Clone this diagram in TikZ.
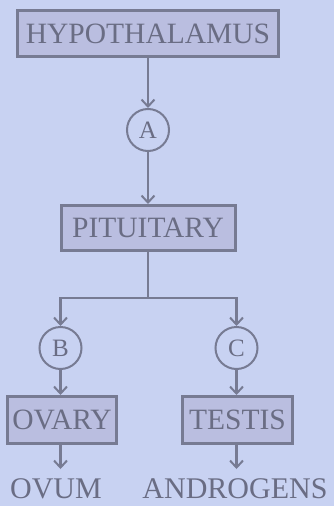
\documentclass[tikz,border=0pt]{standalone}
\usepackage{fontspec}
\setmainfont{Liberation Serif}
\usetikzlibrary{arrows.meta}
\definecolor{bg}{HTML}{C8D2F2}
\definecolor{ln}{HTML}{777B93}
\definecolor{bx}{HTML}{BABEE0}
\definecolor{tx}{HTML}{6A6D84}
\tikzset{
  organ/.style={draw=ln, line width=3pt, fill=bx, rectangle, inner sep=0pt, text=tx, font=\fontsize{29.5}{30}\selectfont},
  letter/.style={draw=ln, line width=2pt, circle, inner sep=0pt, minimum size=42pt, text=tx, font=\fontsize{25}{26}\selectfont},
  product/.style={inner sep=0pt, text=tx, font=\fontsize{30}{31}\selectfont},
  arr/.style={draw=ln, line width=2.2pt, -{Straight Barb[length=7pt,width=13pt,line width=2pt]}},
  plain/.style={draw=ln, line width=2.2pt}
}
\begin{document}
\begin{tikzpicture}[x=1pt,y=-1pt]
\useasboundingbox[fill=bg] (0,0) rectangle (334,506);
\node[organ, minimum width=261pt, minimum height=46pt] (hyp) at (148,33.5) {HYPOTHALAMUS};
\node[letter] (A) at (148,130) {A};
\node[organ, minimum width=174pt, minimum height=45pt] (pit) at (148,228) {PITUITARY};
\coordinate (j) at (148,298);
\node[letter] (B) at (60.5,348) {B};
\node[letter] (C) at (236.5,348) {C};
\node[organ, minimum width=109pt, minimum height=47pt] (ov) at (62,420) {OVARY};
\node[organ, minimum width=110pt, minimum height=47pt] (te) at (237.5,420) {TESTIS};
\node[product] (ovum) at (56,489) {OVUM};
\node[product] (andr) at (235,489) {ANDROGENS};
\coordinate (ovt) at (60.5,469);
\coordinate (tet) at (236.5,469);
\draw[arr] (hyp.south) -- (A.north);
\draw[arr] (A.south) -- (pit.north);
\draw[plain] (pit.south) -- (j);
\draw[arr] (j) -| (B.north);
\draw[arr] (j) -| (C.north);
\draw[arr] (B.south) -- (B.south |- ov.north);
\draw[arr] (C.south) -- (C.south |- te.north);
\draw[arr] (ov.south -| B.south) -- (ovt);
\draw[arr] (te.south -| C.south) -- (tet);
\end{tikzpicture}
\end{document}
